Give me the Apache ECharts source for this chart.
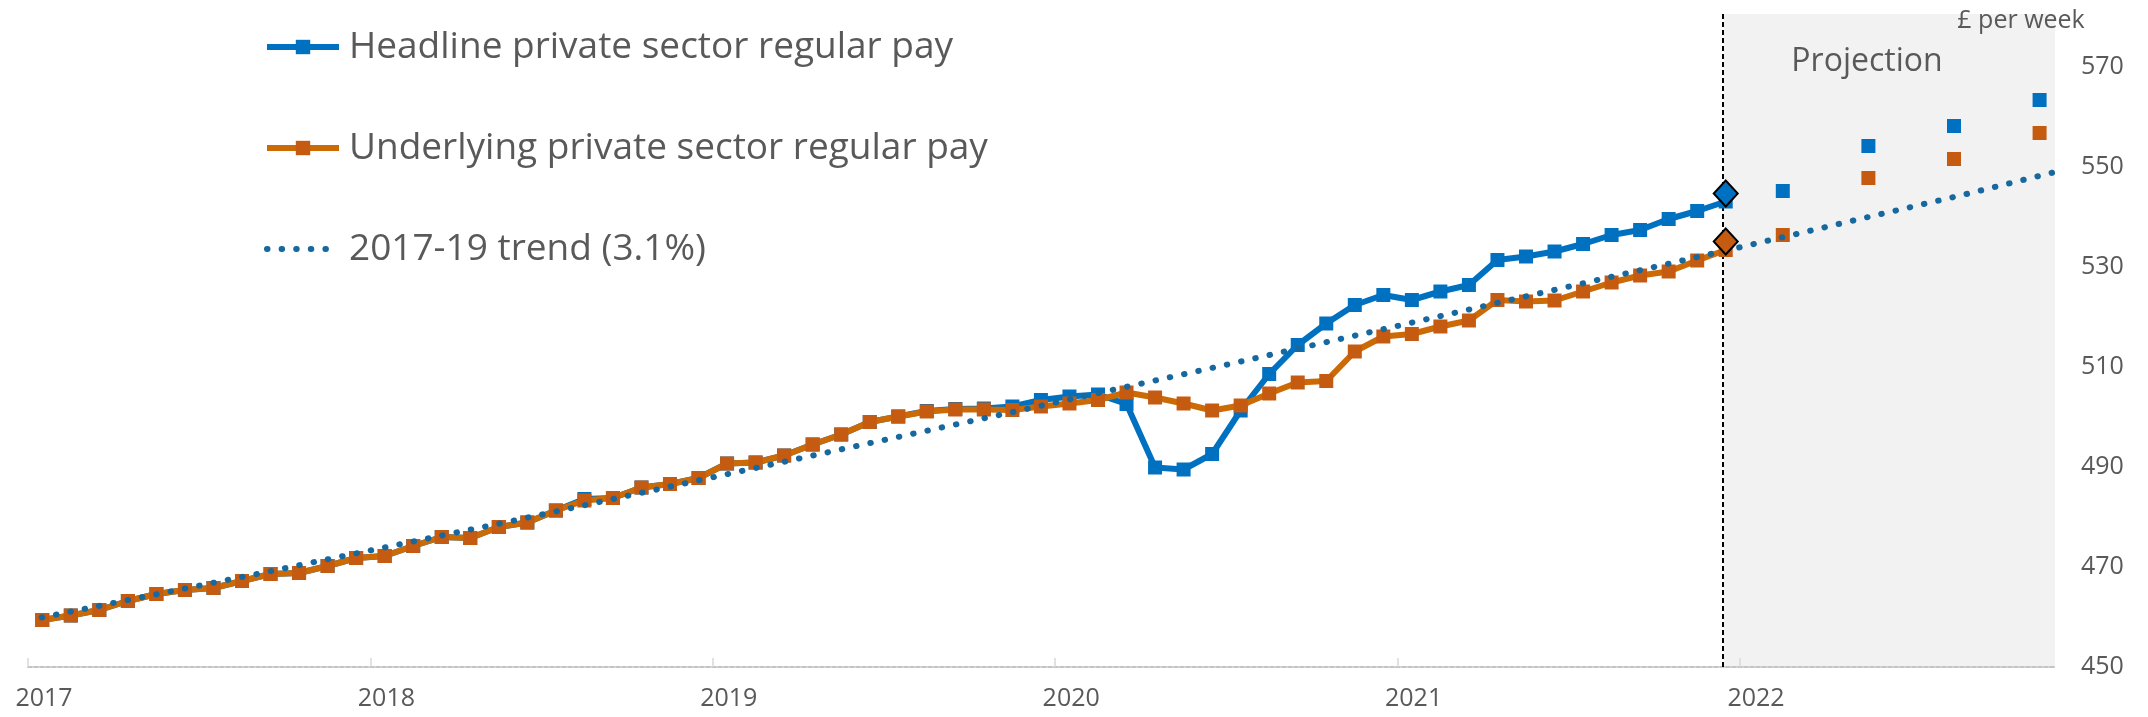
<!DOCTYPE html>
<html>
<head>
<meta charset="utf-8">
<title>Private sector regular pay</title>
<script src="https://cdn.jsdelivr.net/npm/echarts@6.0.0/dist/echarts.min.js"></script>
<style>
html, body { margin: 0; padding: 0; background: #fff; }
#chart { width: 2148px; height: 717px; }
</style>
</head>
<body>
<div id="chart"></div>
<script>
// monthly figures, Jan 2017 - Dec 2021 (£ per week)
const underlying = [
  459.4, 460.3, 461.4, 463.2, 464.6, 465.4, 465.8, 467.2, 468.6, 468.8, 470.2, 471.8,
  472.2, 474.2, 476.0, 475.8, 478.0, 478.9, 481.3, 483.3, 483.8, 485.9, 486.6, 487.8,
  490.7, 490.9, 492.3, 494.5, 496.5, 499.0, 500.1, 501.1, 501.5, 501.5, 501.4, 502.1,
  502.7, 503.4, 504.9, 503.9, 502.7, 501.3, 502.3, 504.7, 506.9, 507.2, 513.1, 516.1,
  516.6, 518.1, 519.3, 523.4, 523.1, 523.3, 525.1, 526.9, 528.3, 529.1, 531.3, 533.4
];
const headline = [
  459.4, 460.3, 461.4, 463.2, 464.6, 465.4, 465.8, 467.2, 468.6, 468.8, 470.2, 471.8,
  472.2, 474.2, 476.0, 475.8, 478.0, 478.9, 481.3, 483.6, 483.8, 485.9, 486.6, 487.8,
  490.7, 490.9, 492.3, 494.5, 496.5, 499.0, 500.1, 501.2, 501.6, 501.7, 502.1, 503.4,
  504.1, 504.5, 502.6, 489.9, 489.5, 492.6, 501.3, 508.6, 514.4, 518.7, 522.4, 524.4,
  523.4, 525.1, 526.4, 531.4, 532.1, 533.1, 534.6, 536.4, 537.4, 539.6, 541.2, 543.1
];

// projection (quarterly, 2022)
const projMonths = ['2022-02', '2022-05', '2022-08', '2022-11'];
const projHeadline = [545.2, 554.2, 558.2, 563.4];
const projUnderlying = [536.4, 547.8, 551.6, 556.8];

// latest outturn markers (Dec 2021)
const latestMonth = '2021-12';
const latestHeadline = 544.7;
const latestUnderlying = 535.1;

// 2017-19 trend (3.1%)
const trendYears = [2017.04, 2017.69, 2018.42, 2019.87, 2020.51, 2020.98, 2022.01, 2022.35, 2022.65, 2022.92];
const trendValues = [459.9, 468.9, 479.3, 500.9, 510.6, 517.9, 534.1, 539.6, 544.4, 549.0];

const yearTicks = [2017, 2018, 2019, 2020, 2021, 2022];
const valueTicks = [450, 470, 490, 510, 530, 550, 570];

const NAME_H = 'Headline private sector regular pay';
const NAME_U = 'Underlying private sector regular pay';
const NAME_T = '2017-19 trend (3.1%)';

const FONT = '"Open Sans", "Noto Sans", sans-serif';
const TEXT = '#595959';
const BLUE = '#0070C0';
const ORANGE = '#C55A11';
const ORANGE_LINE = '#CC6A05';
const TEAL = '#16689E';

// month string -> fractional year at mid-month
function monthPos(s) {
  const p = s.split('-');
  return +p[0] + (+p[1] - 0.5) / 12;
}

const months = [];
for (let y = 2017; y <= 2021; y++) {
  for (let m = 1; m <= 12; m++) {
    months.push(y + '-' + (m < 10 ? '0' + m : m));
  }
}

const pair = (xs, vs) => xs.map((x, i) => [typeof x === 'string' ? monthPos(x) : x, vs[i]]);

const chart = echarts.init(document.getElementById('chart'));

const option = {
  animation: false,
  backgroundColor: '#fff',
  textStyle: { fontFamily: FONT },
  grid: { left: 28, right: 93, top: 14, bottom: 50 },
  xAxis: {
    type: 'value',
    min: 2017,
    max: 2022.92,
    axisLine: { show: true, onZero: false, lineStyle: { color: '#C4C4C4', width: 2, type: [4, 2] } },
    axisTick: { show: true, inside: true, length: 9, customValues: yearTicks, lineStyle: { color: '#D9D9D9', width: 1.5 } },
    axisLabel: {
      customValues: yearTicks,
      formatter: v => String(v),
      color: TEXT,
      fontFamily: FONT,
      fontSize: 25,
      margin: 19,
      padding: [0, 0, 0, 32]
    },
    splitLine: { show: false }
  },
  yAxis: {
    type: 'value',
    position: 'right',
    min: 450,
    max: 580.6,
    axisLine: { show: false },
    axisTick: { show: false },
    splitLine: { show: false },
    axisLabel: { customValues: valueTicks, color: TEXT, fontFamily: FONT, fontSize: 25, margin: 26 }
  },
  legend: {
    orient: 'vertical',
    left: 259,
    top: 20,
    itemWidth: 72,
    itemHeight: 18,
    itemGap: 57,
    selectedMode: false,
    data: [NAME_H, NAME_U, { name: NAME_T, itemStyle: { opacity: 0 } }],
    lineStyle: { width: 6 },
    textStyle: { fontSize: 37, color: TEXT, fontFamily: FONT, lineHeight: 44, padding: [0, 0, 0, 5] }
  },
  graphic: [
    {
      type: 'text', x: 1867, y: 62, z: 100,
      style: { text: 'Projection', fill: TEXT, font: '32px ' + FONT, align: 'center', verticalAlign: 'middle' }
    },
    {
      type: 'text', x: 2021, y: 21, z: 100,
      style: { text: '£ per week', fill: TEXT, font: '25px ' + FONT, align: 'center', verticalAlign: 'middle' }
    }
  ],
  series: [
    {
      // projection period shading and cut-off line
      name: 'bg',
      type: 'line',
      data: [],
      silent: true,
      markArea: {
        silent: true,
        z: 0,
        itemStyle: { color: '#F2F2F2' },
        data: [[{ xAxis: 2021.953 }, { xAxis: 2022.92 }]]
      },
      markLine: {
        silent: true,
        z: 1,
        symbol: 'none',
        label: { show: false },
        lineStyle: { color: '#000', width: 2, type: [5, 3] },
        data: [{ xAxis: 2021.948 }]
      }
    },
    {
      name: NAME_H,
      type: 'line',
      z: 3,
      data: pair(months, headline),
      symbol: 'rect',
      symbolSize: 14,
      lineStyle: { color: BLUE, width: 6 },
      itemStyle: { color: BLUE }
    },
    {
      name: NAME_U,
      type: 'line',
      z: 4,
      data: pair(months, underlying),
      symbol: 'rect',
      symbolSize: 14,
      lineStyle: { color: ORANGE_LINE, width: 6 },
      itemStyle: { color: ORANGE }
    },
    {
      name: NAME_T,
      type: 'line',
      z: 5,
      data: pair(trendYears, trendValues),
      showSymbol: false,
      symbol: 'none',
      lineStyle: { color: TEAL, width: 6, type: [0.5, 14.1], cap: 'round' },
      itemStyle: { color: TEAL }
    },
    {
      name: 'proj-h',
      type: 'scatter',
      z: 4,
      data: pair(projMonths, projHeadline),
      symbol: 'rect',
      symbolSize: 14,
      itemStyle: { color: BLUE, opacity: 1 }
    },
    {
      name: 'proj-u',
      type: 'scatter',
      z: 4,
      data: pair(projMonths, projUnderlying),
      symbol: 'rect',
      symbolSize: 14,
      itemStyle: { color: ORANGE, opacity: 1 }
    },
    {
      name: 'latest',
      type: 'scatter',
      z: 10,
      symbol: 'diamond',
      symbolSize: [24, 26],
      data: [
        { value: [monthPos(latestMonth), latestHeadline], itemStyle: { color: BLUE } },
        { value: [monthPos(latestMonth), latestUnderlying], itemStyle: { color: ORANGE } }
      ],
      itemStyle: { borderColor: '#000', borderWidth: 2, opacity: 1 }
    }
  ]
};

chart.setOption(option);
</script>
</body>
</html>
